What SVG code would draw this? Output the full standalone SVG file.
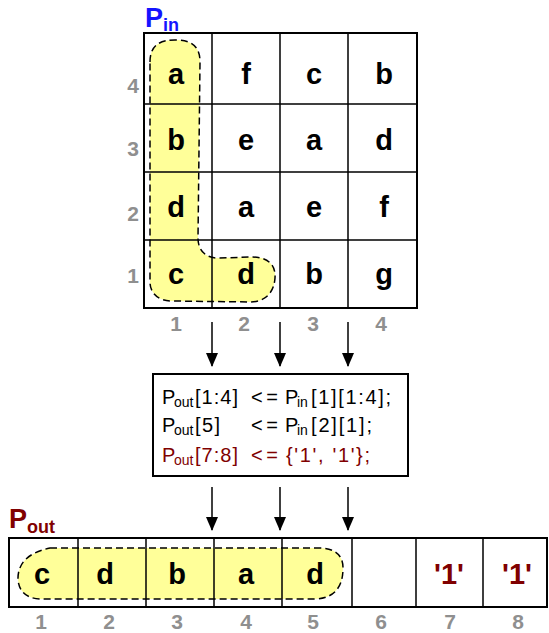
<svg xmlns="http://www.w3.org/2000/svg" width="549" height="633" viewBox="0 0 549 633">
<style>
.cell{font-family:"Liberation Sans",Arial,sans-serif;font-weight:bold;font-size:29px;text-anchor:middle;fill:#000}
.lbl{font-family:"Liberation Sans",Arial,sans-serif;font-weight:bold;font-size:21px;text-anchor:middle;fill:#8f8f8f}
.code{font-family:"Liberation Sans",Arial,sans-serif;font-size:20px;fill:#000}
.sub{font-size:14px}
.red,.code.red{fill:#800000}
.blob{fill:#ffff99;stroke:#000;stroke-width:1.5;stroke-dasharray:7,4}
.grid{fill:none;stroke:#000;stroke-width:1.5}
.border{fill:none;stroke:#000;stroke-width:2}
.arrow{stroke:#000;stroke-width:1.5;marker-end:url(#ah)}
</style>
<defs>
<marker id="ah" markerUnits="userSpaceOnUse" markerWidth="14" markerHeight="12" refX="13" refY="6" orient="auto" viewBox="0 0 14 12">
<path d="M0,0 L14,6 L0,12 Z" fill="#000"/>
</marker>
</defs>
<rect width="549" height="633" fill="#fff"/>

<g id="pin-title">
<text x="145" y="27" font-family="Liberation Sans,Arial,sans-serif" font-weight="bold" font-size="27" fill="#1414ff">P</text>
<text x="163" y="31" font-family="Liberation Sans,Arial,sans-serif" font-weight="bold" font-size="18" fill="#1414ff">in</text>
</g>

<g id="pin-grid">
<path class="blob" d="M150,62 C150,45 160,40 175,40 C190,40 200,45 200,62 L198,238 C198,250 205,258 218,258 L252,257 C268,257 276,265 275,278 C274,293 265,302 250,302 L172,301 C158,301 150,293 150,282 Z"/>
<path class="grid" d="M212,33V308M280,33V308M348,33V308M144,104H417M144,172H417M144,240H417"/>
<rect class="border" x="144" y="33" width="273" height="275"/>
<text class="cell" x="176" y="84">a</text><text class="cell" x="246" y="84">f</text><text class="cell" x="314" y="84">c</text><text class="cell" x="384" y="84">b</text>
<text class="cell" x="176" y="150">b</text><text class="cell" x="246" y="150">e</text><text class="cell" x="314" y="150">a</text><text class="cell" x="384" y="150">d</text>
<text class="cell" x="176" y="217">d</text><text class="cell" x="246" y="217">a</text><text class="cell" x="314" y="217">e</text><text class="cell" x="384" y="217">f</text>
<text class="cell" x="176" y="284">c</text><text class="cell" x="246" y="284">d</text><text class="cell" x="314" y="284">b</text><text class="cell" x="384" y="284">g</text>
<text class="lbl" x="133" y="93">4</text><text class="lbl" x="133" y="156">3</text><text class="lbl" x="133" y="221">2</text><text class="lbl" x="133" y="283">1</text>
<text class="lbl" x="176" y="331">1</text><text class="lbl" x="244" y="331">2</text><text class="lbl" x="313" y="331">3</text><text class="lbl" x="381" y="331">4</text>
</g>

<g id="code-box">
<rect class="border" x="153" y="374" width="255" height="102" fill="#fff"/>
<g class="code">
<text x="162" y="404">P</text><text class="sub" x="174" y="407">out</text><text x="195" y="404" textLength="43" lengthAdjust="spacing">[1:4]</text><text x="251" y="404" textLength="27" lengthAdjust="spacing">&lt;=</text><text x="285" y="404">P</text><text class="sub" x="297" y="407">in</text><text x="311" y="404" textLength="80" lengthAdjust="spacing">[1][1:4];</text>
<text x="162" y="432">P</text><text class="sub" x="174" y="435">out</text><text x="195" y="432" textLength="25" lengthAdjust="spacing">[5]</text><text x="251" y="432" textLength="27" lengthAdjust="spacing">&lt;=</text><text x="285" y="432">P</text><text class="sub" x="297" y="435">in</text><text x="311" y="432" textLength="61" lengthAdjust="spacing">[2][1];</text>
</g>
<g class="code red">
<text x="162" y="462">P</text><text class="sub" x="174" y="465">out</text><text x="195" y="462" textLength="43" lengthAdjust="spacing">[7:8]</text><text x="251" y="462" textLength="27" lengthAdjust="spacing">&lt;=</text><text x="286" y="462" textLength="84" lengthAdjust="spacing">{'1', '1'};</text>
</g>
</g>

<g id="pout-title">
<text x="9" y="528" font-family="Liberation Sans,Arial,sans-serif" font-weight="bold" font-size="27" fill="#800000">P</text>
<text x="27" y="533" font-family="Liberation Sans,Arial,sans-serif" font-weight="bold" font-size="18" fill="#800000">out</text>
</g>

<g id="pout-row">
<path class="blob" d="M50,548 L318,548 Q343,548 343,568 Q343,598 315,599 L40,599 Q20,598 18,580 Q17,555 50,548 Z"/>
<path class="grid" d="M78,538V607M146,538V607M214,538V607M282,538V607M352,538V607M416,538V607M483,538V607"/>
<rect class="border" x="9" y="538" width="538" height="69"/>
<text class="cell" x="42" y="584">c</text><text class="cell" x="105" y="584">d</text><text class="cell" x="177" y="584">b</text><text class="cell" x="246" y="584">a</text><text class="cell" x="315" y="584">d</text>
<text class="cell red" x="449" y="584">'1'</text><text class="cell red" x="517" y="584">'1'</text>
<text class="lbl" x="41" y="629">1</text><text class="lbl" x="109" y="629">2</text><text class="lbl" x="177" y="629">3</text><text class="lbl" x="246" y="629">4</text><text class="lbl" x="313" y="629">5</text><text class="lbl" x="381" y="629">6</text><text class="lbl" x="450" y="629">7</text><text class="lbl" x="518" y="629">8</text>
</g>

<g id="connectors">
<line class="arrow" x1="212" y1="322" x2="212" y2="366"/>
<line class="arrow" x1="280" y1="322" x2="280" y2="366"/>
<line class="arrow" x1="348" y1="322" x2="348" y2="366"/>
<line class="arrow" x1="212" y1="487" x2="212" y2="530"/>
<line class="arrow" x1="280" y1="487" x2="280" y2="530"/>
<line class="arrow" x1="348" y1="487" x2="348" y2="530"/>
</g>
</svg>
